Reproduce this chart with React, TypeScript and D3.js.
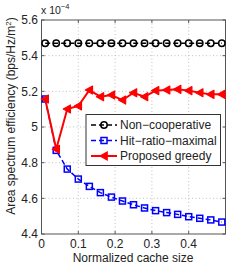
import React, { useEffect, useRef } from 'react';
import * as d3 from 'd3';

const W = 249;
const H = 264;

const xTicks = [0, 0.1, 0.2, 0.3, 0.4];
const yTicks = [4.4, 4.6, 4.8, 5, 5.2, 5.4, 5.6];

const xNonCoop = [0.01, 0.04, 0.07, 0.1, 0.13, 0.16, 0.19, 0.22, 0.25, 0.28, 0.31, 0.34, 0.37, 0.4, 0.43, 0.46, 0.49];
const nonCoop = [5.47, 5.47, 5.47, 5.47, 5.47, 5.47, 5.47, 5.47, 5.47, 5.47, 5.47, 5.47, 5.47, 5.47, 5.47, 5.47, 5.47];
const hitRatio = [5.157, 4.869, 4.764, 4.708, 4.667, 4.632, 4.607, 4.585, 4.564, 4.546, 4.531, 4.52, 4.51, 4.497, 4.488, 4.479, 4.467];
const greedy = [5.157, 4.875, 5.101, 5.118, 5.207, 5.17, 5.179, 5.151, 5.192, 5.17, 5.204, 5.207, 5.211, 5.204, 5.192, 5.183, 5.183];

const legendLabels = ['Non\u2212cooperative', 'Hit\u2212ratio\u2212maximal', 'Proposed greedy'];

export default function App() {
  const svgRef = useRef<SVGSVGElement>(null);

  useEffect(() => {
    if (!svgRef.current) return;
    const svg = d3.select(svgRef.current);
    svg.selectAll('*').remove();

    const left = 41.5, right = 225.5, top = 20, bottom = 234;
    const x = d3.scaleLinear().domain([0, 0.5]).range([left, right]);
    const y = d3.scaleLinear().domain([4.4, 5.6]).range([bottom, top]);
    const font = 'Liberation Sans, Arial, sans-serif';
    const fs = 12;

    // grid
    const grid = svg.append('g').attr('stroke', '#b0b0b0').attr('stroke-width', 0.8).attr('stroke-dasharray', '1,2.5');
    xTicks.filter(t => t > 0).forEach(t => {
      grid.append('line').attr('x1', x(t)).attr('x2', x(t)).attr('y1', top).attr('y2', bottom);
    });
    yTicks.filter(t => t > 4.4 && t < 5.6).forEach(t => {
      grid.append('line').attr('x1', left).attr('x2', right).attr('y1', y(t)).attr('y2', y(t));
    });

    // box + ticks
    svg.append('rect').attr('x', left).attr('y', top).attr('width', right - left).attr('height', bottom - top)
      .attr('fill', 'none').attr('stroke', '#555').attr('stroke-width', 1);
    const tk = svg.append('g').attr('stroke', '#555').attr('stroke-width', 1);
    xTicks.forEach(t => {
      tk.append('line').attr('x1', x(t)).attr('x2', x(t)).attr('y1', bottom).attr('y2', bottom - 3);
      tk.append('line').attr('x1', x(t)).attr('x2', x(t)).attr('y1', top).attr('y2', top + 3);
    });
    yTicks.forEach(t => {
      tk.append('line').attr('x1', left).attr('x2', left + 3).attr('y1', y(t)).attr('y2', y(t));
      tk.append('line').attr('x1', right).attr('x2', right - 3).attr('y1', y(t)).attr('y2', y(t));
    });

    // tick labels
    svg.append('g').selectAll('text').data(xTicks).enter().append('text')
      .attr('x', d => x(d)).attr('y', 247.5).attr('text-anchor', 'middle')
      .attr('font-family', font).attr('font-size', fs).attr('fill', '#222')
      .text(d => d === 0 ? '0' : d3.format('.1f')(d));
    svg.append('g').selectAll('text').data(yTicks).enter().append('text')
      .attr('x', 38).attr('y', d => y(d) + 4.2).attr('text-anchor', 'end')
      .attr('font-family', font).attr('font-size', fs).attr('fill', '#222')
      .text(d => d === 5 ? '5' : d3.format('.1f')(d));

    // exponent
    const ex = svg.append('text').attr('x', 41).attr('y', 14).attr('font-family', font).attr('font-size', 10.5).attr('fill', '#222');
    ex.append('tspan').text('x 10');
    ex.append('tspan').attr('dy', -5).attr('font-size', 7.5).text('\u22124');

    // axis labels
    svg.append('text').attr('x', 133).attr('y', 261.5).attr('text-anchor', 'middle')
      .attr('font-family', font).attr('font-size', fs).attr('fill', '#222').text('Normalized cache size');
    const yl = svg.append('text').attr('transform', 'translate(15,116) rotate(-90)').attr('text-anchor', 'middle')
      .attr('font-family', font).attr('font-size', fs).attr('fill', '#222');
    yl.append('tspan').text('Area spectrum efficiency (bps/Hz/m');
    yl.append('tspan').attr('dy', -4).attr('font-size', 8).text('2');
    yl.append('tspan').attr('dy', 4).text(')');

    const line = d3.line<number>().x((d, i) => x(xNonCoop[i])).y(d => y(d));
    const plot = svg.append('g');

    const tri = (cx: number, cy: number, r: number) =>
      `M${cx - r},${cy}L${cx + r * 0.8},${cy - r}L${cx + r * 0.8},${cy + r}Z`;

    // non-cooperative
    plot.append('path').datum(nonCoop).attr('d', line).attr('fill', 'none').attr('stroke', 'black')
      .attr('stroke-width', 1.5).attr('stroke-dasharray', '5,3');
    plot.append('g').selectAll('circle').data(nonCoop).enter().append('circle')
      .attr('cx', (d, i) => x(xNonCoop[i])).attr('cy', d => y(d)).attr('r', 3.2)
      .attr('fill', 'none').attr('stroke', 'black').attr('stroke-width', 1.5);

    // hit-ratio
    plot.append('path').datum(hitRatio).attr('d', line).attr('fill', 'none').attr('stroke', '#0000ff')
      .attr('stroke-width', 1.5).attr('stroke-dasharray', '5,3');
    plot.append('g').selectAll('rect').data(hitRatio).enter().append('rect')
      .attr('x', (d, i) => x(xNonCoop[i]) - 3).attr('y', d => y(d) - 3).attr('width', 6).attr('height', 6)
      .attr('fill', 'none').attr('stroke', '#0000ff').attr('stroke-width', 1.5);

    // greedy
    plot.append('path').datum(greedy).attr('d', line).attr('fill', 'none').attr('stroke', '#ff0000')
      .attr('stroke-width', 2);
    plot.append('g').selectAll('path').data(greedy).enter().append('path')
      .attr('d', (d, i) => tri(x(xNonCoop[i]), y(d), 4))
      .attr('fill', '#ff0000').attr('stroke', '#ff0000').attr('stroke-width', 1.2).attr('stroke-linejoin', 'round');

    // legend
    const lg = svg.append('g');
    lg.append('rect').attr('x', 86).attr('y', 114.5).attr('width', 134.5).attr('height', 51)
      .attr('fill', 'white').attr('stroke', '#333').attr('stroke-width', 1);
    const rows = [125, 140.5, 156];
    const colors = ['black', '#0000ff', '#ff0000'];
    rows.forEach((ry, i) => {
      lg.append('line').attr('x1', 91).attr('x2', 117).attr('y1', ry).attr('y2', ry)
        .attr('stroke', colors[i]).attr('stroke-width', i === 2 ? 2 : 1.5)
        .attr('stroke-dasharray', i === 2 ? null : '5,3');
      if (i === 0) lg.append('circle').attr('cx', 104).attr('cy', ry).attr('r', 3.2).attr('fill', 'none').attr('stroke', 'black').attr('stroke-width', 1.5);
      if (i === 1) lg.append('rect').attr('x', 101).attr('y', ry - 3).attr('width', 6).attr('height', 6).attr('fill', 'none').attr('stroke', '#0000ff').attr('stroke-width', 1.5);
      if (i === 2) lg.append('path').attr('d', tri(104, ry, 4)).attr('fill', '#ff0000').attr('stroke', '#ff0000').attr('stroke-width', 1.2);
      lg.append('text').attr('x', 120).attr('y', ry + 4.2).attr('font-family', font).attr('font-size', fs)
        .attr('fill', '#222').text(legendLabels[i]);
    });
  }, []);

  return <svg ref={svgRef} width={W} height={H} style={{ position: 'absolute', left: 0, top: 0, background: 'white' }} />;
}
